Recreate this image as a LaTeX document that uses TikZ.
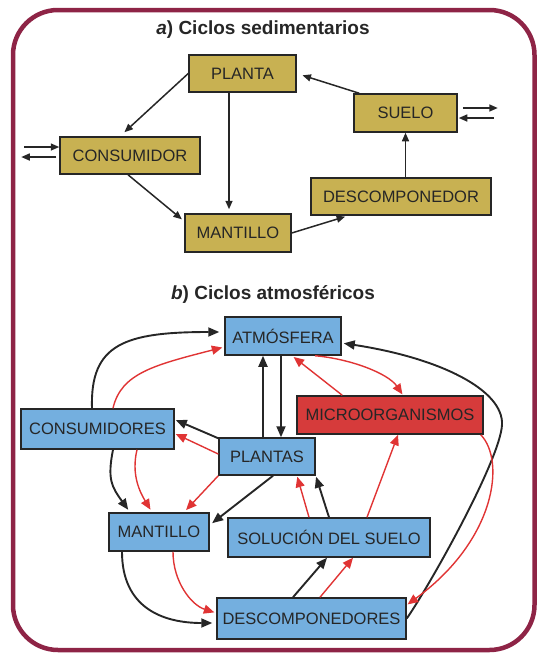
\documentclass[tikz,border=0pt]{standalone}
\usepackage{fontspec}
\setmainfont{Liberation Sans}
\usetikzlibrary{arrows.meta,calc}
\definecolor{granate}{HTML}{8E2446}
\definecolor{ocre}{HTML}{C8B152}
\definecolor{celeste}{HTML}{74AFDF}
\definecolor{rojo}{HTML}{D63B3B}
\definecolor{flecha}{HTML}{E03434}
\definecolor{tinta}{HTML}{262626}
\begin{document}
\begin{tikzpicture}[x=1pt,y=-1pt,
  caja/.style={draw=tinta,line width=1.5pt,text=tinta,minimum height=37pt,inner sep=0pt,font=\fontsize{16.5}{18}\selectfont},
  sedbox/.style={caja,fill=ocre},
  atmbox/.style={caja,fill=celeste},
  fa/.style={-{Triangle[length=8.5pt,width=7pt]},line width=1.5pt,tinta},
  fn/.style={-{Triangle[length=11pt,width=9pt]},line width=1.9pt,tinta},
  fr/.style={-{Triangle[length=10.5pt,width=9pt]},line width=1.4pt,flecha},
  titulo/.style={font=\fontsize{19}{22}\selectfont\bfseries,text=tinta}]
\useasboundingbox (0,0) rectangle (536,656);
\draw[granate,line width=4.5pt,rounded corners=45pt] (13,10) rectangle (534.5,650);
% a) ciclos sedimentarios
\node[titulo] (tituloa) at (263,30) {\textit{a}) Ciclos sedimentarios};
\node[sedbox,minimum width=107pt] (planta) at (242.5,73.5) {PLANTA};
\node[sedbox,minimum width=103pt,minimum height=38pt] (suelo) at (405.5,113) {SUELO};
\node[sedbox,minimum width=140pt] (consumidor) at (130,155.5) {CONSUMIDOR};
\node[sedbox,minimum width=180pt] (descomponedor) at (401,196.5) {DESCOMPONEDOR};
\node[sedbox,minimum width=106pt,minimum height=38pt] (mantillo) at (238,233) {MANTILLO};
\draw[fa,shorten >=6pt] (planta.west) -- ($(consumidor.north)+(-10,0)$);
\draw[fa,shorten >=4pt] ($(planta.south)+(-13.5,0)$) -- ($(mantillo.north)+(-9,0)$);
\draw[fa,shorten >=3pt] ($(consumidor.south)+(-2,0)$) -- ($(mantillo.north west)+(0,8)$);
\draw[fa,shorten >=3pt] (mantillo.east) -- ($(descomponedor.south)+(-53,0)$);
\draw[fa] (suelo.south |- descomponedor.north) -- (suelo.south);
\draw[fa,shorten >=6pt] ($(suelo.north west)+(6,0)$) -- (planta.east);
% intercambios con el exterior
\coordinate (entc) at ($(consumidor.west)+(-35,-8.5)$);
\coordinate (salc) at ($(consumidor.west)+(-38,1.5)$);
\coordinate (sals) at ($(suelo.east)+(40,-5)$);
\coordinate (ents) at ($(suelo.east)+(36,5)$);
\draw[fa] (entc) -- ($(consumidor.west)+(0,-8.5)$);
\draw[fa] ($(consumidor.west)+(-3,1.5)$) -- (salc);
\draw[fa] ($(suelo.east)+(5,-5)$) -- (sals);
\draw[fa] (ents) -- ($(suelo.east)+(1,5)$);
% b) ciclos atmosfericos
\node[titulo] (titulob) at (273,294) {\textit{b}) Ciclos atmosféricos};
\node[atmbox,minimum width=116pt,minimum height=38pt] (atmosfera) at (283,336) {ATMÓSFERA};
\node[caja,fill=rojo,minimum width=186pt,minimum height=38pt] (micro) at (390,415) {MICROORGANISMOS};
\node[atmbox,minimum width=153pt,minimum height=40pt] (consumidores) at (97.5,429) {CONSUMIDORES};
\node[atmbox,minimum width=96pt] (plantas) at (267,456.5) {PLANTAS};
\node[atmbox,minimum width=100pt,minimum height=38pt] (mantillob) at (159,532) {MANTILLO};
\node[atmbox,minimum width=202pt,minimum height=39pt] (solucion) at (329,537.5) {SOLUCIÓN DEL SUELO};
\node[atmbox,minimum width=189pt,minimum height=41pt] (descomp) at (311.5,618.5) {DESCOMPONEDORES};
\coordinate (giro) at (502,425);
% flechas negras
\draw[fn,shorten >=5pt] ($(consumidores.north)+(-5.5,0)$) .. controls +(-2,-64) and +(-100,0) .. ($(atmosfera.west)+(0,-4)$);
\draw[fn] ($(plantas.north)+(-4,0)$) -- ($(atmosfera.south)+(-20,0)$);
\draw[fn] ($(atmosfera.south)+(-2,0)$) -- ($(plantas.north)+(14,0)$);
\draw[fn] ($(plantas.north west)+(0,1)$) -- ($(consumidores.east)+(1,-9)$);
\draw[fn,shorten >=3pt] ($(consumidores.south)+(15.5,0)$) .. controls +(-6,30) and +(-18,-25) .. ($(mantillob.north)+(-29,0)$);
\draw[fn,shorten >=3pt] ($(plantas.south)+(6,0)$) -- ($(mantillob.east)+(0,-7)$);
\draw[fn,shorten >=1pt] (solucion.north) -- (plantas.south east);
\draw[fn,shorten >=4pt] ($(mantillob.south)+(-37,0)$) .. controls +(0,55) and +(-55,0) .. ($(descomp.west)+(0,4.5)$);
\draw[fn] ($(descomp.north)+(-18.5,0)$) -- ($(solucion.south)+(-2,0)$);
\draw[fn,shorten >=2pt] (descomp.east) .. controls (430,585) and (500,460) .. (giro) .. controls (504,390) and (440,358) .. ($(atmosfera.east)+(0,7)$);
% flechas rojas
\draw[fr,shorten >=2pt] ($(consumidores.north)+(15.5,0)$) .. controls +(8,-35) and +(-70,18) .. ($(atmosfera.west)+(0,11)$);
\draw[fr] ($(plantas.west)+(0,-2.5)$) -- ($(consumidores.east)+(1,5)$);
\draw[fr,shorten >=3pt] ($(consumidores.south)+(39.5,0)$) .. controls +(-6,25) and +(-12,-20) .. ($(mantillob.north)+(-7,0)$);
\draw[fr,shorten >=3pt] (plantas.south west) -- ($(mantillob.north)+(25,0)$);
\draw[fr,shorten >=2pt] ($(micro.north west)+(46,0)$) -- ($(atmosfera.south)+(9,0)$);
\draw[fr,shorten >=1pt] ($(atmosfera.south)+(32,0)$) .. controls +(35,3) and +(-15,-22) .. ($(micro.north)+(13,0)$);
\draw[fr,shorten >=1pt] ($(solucion.north)+(-20,0)$) -- ($(plantas.south)+(30,0)$);
\draw[fr] ($(solucion.north)+(38,0)$) -- ($(micro.south)+(8,0)$);
\draw[fr,shorten >=1pt] ($(micro.south east)+(-3,0)$) .. controls +(25,26) and +(89,-65) .. ($(descomp.east)+(0,-13.5)$);
\draw[fr,shorten >=2pt] ($(mantillob.south)+(14,0)$) .. controls +(0,30) and +(-25,-8) .. ($(descomp.west)+(0,-5.5)$);
\draw[fr] ($(descomp.north)+(8.5,0)$) -- ($(solucion.south)+(24,0)$);
\end{tikzpicture}
\end{document}
